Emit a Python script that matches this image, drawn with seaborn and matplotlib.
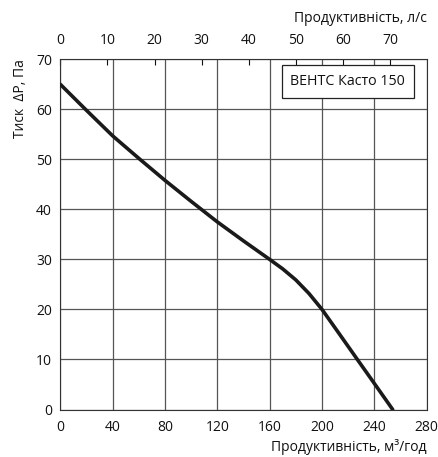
import pandas as pd
import matplotlib.pyplot as plt
import seaborn as sns

# Fan curve (flow in m3/h, pressure in Pa)
FLOW_M3H = [0, 20, 40, 60, 80, 100, 120, 140, 160, 170, 180, 190, 200, 213, 227, 240, 254]
PRESSURE_PA = [65, 59.8, 54.7, 50.2, 45.8, 41.6, 37.5, 33.7, 30.0, 28.1, 25.9, 23.2, 20.0,
               15.2, 10.0, 5.2, 0]

X_TICKS = [0, 40, 80, 120, 160, 200, 240, 280]
Y_TICKS = [0, 10, 20, 30, 40, 50, 60, 70]
TOP_TICKS = [0, 10, 20, 30, 40, 50, 60, 70]

MODEL = "ВЕНТС Касто 150"
X_LABEL = "Продуктивність, м³/год"
TOP_LABEL = "Продуктивність, л/с"
Y_LABEL = "Тиск  ΔP, Па"

sns.set_style("white")
plt.rcParams["font.family"] = ["Open Sans", "DejaVu Sans"]
plt.rcParams["text.color"] = "#111111"
plt.rcParams["xtick.color"] = "#111111"
plt.rcParams["ytick.color"] = "#111111"
plt.rcParams["axes.labelcolor"] = "#111111"
FS = 10

df = pd.DataFrame({"flow": FLOW_M3H, "pressure": PRESSURE_PA})

fig = plt.figure(figsize=(4.39, 4.57), dpi=100)
ax = fig.add_axes([0.1374, 0.1039, 0.8346, 0.7663])

ax.grid(True, color="#555555", linewidth=0.9)
ax.set_axisbelow(True)

sns.lineplot(data=df, x="flow", y="pressure", color="#1a1a1a", linewidth=2.6,
             ax=ax, zorder=3)

ax.set_xlim(0, 280)
ax.set_ylim(0, 70)
ax.set_xticks(X_TICKS)
ax.set_yticks(Y_TICKS)
ax.tick_params(axis="x", direction="inout", length=5, width=0.8, labelsize=FS, pad=5)
ax.tick_params(axis="y", direction="out", length=4, width=0.8, labelsize=FS, pad=2)
for s in ax.spines.values():
    s.set_color("#333333")
    s.set_linewidth(0.8)

ax.set_xlabel(X_LABEL, fontsize=FS, loc="right", labelpad=3)
ax.set_ylabel(Y_LABEL, fontsize=FS, loc="top", labelpad=6)

sec = ax.secondary_xaxis("top", functions=(lambda v: v / 3.6, lambda v: v * 3.6))
sec.set_xticks(TOP_TICKS)
sec.tick_params(direction="in", length=4, width=0.8, labelsize=FS, pad=8)
sec.spines["top"].set_visible(False)
sec.set_xlabel(TOP_LABEL, fontsize=FS, loc="right", labelpad=8)

ax.text(0.784, 0.9366, MODEL, transform=ax.transAxes, ha="center", va="center",
        fontsize=FS + 0.3, zorder=5,
        bbox=dict(boxstyle="square,pad=0.6", facecolor="white",
                  edgecolor="#222222", linewidth=0.9))

fig.savefig("out.png", dpi=100)
